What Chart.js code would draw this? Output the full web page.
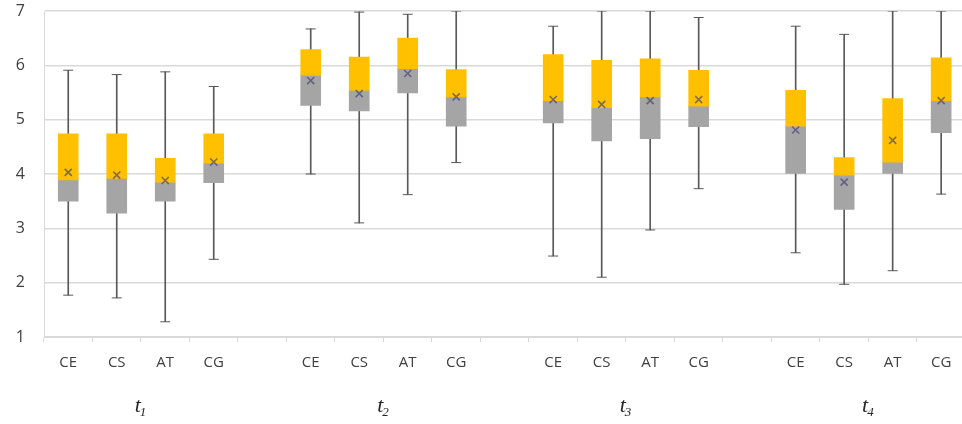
<!DOCTYPE html>
<html>
<head>
<meta charset="utf-8">
<script src="https://cdn.jsdelivr.net/npm/chart.js@4/dist/chart.umd.min.js"></script>
<style>
    body { margin: 0; background: #ffffff; overflow: hidden; }
    #wrap { width: 962px; height: 424px; overflow: hidden; }
</style>
</head>
<body>
<div id="wrap"><canvas id="chart" width="972" height="424"></canvas></div>
<script>
// --- DADOS ---
const groups = ['1', '2', '3', '4'];
const categories = ['CE', 'CS', 'AT', 'CG'];

// t1 CE..CG, t2 CE..CG, t3 CE..CG, t4 CE..CG
const whiskerMin = [1.77, 1.72, 1.28, 2.43,  4.00, 3.10, 3.62, 4.21,  2.49, 2.10, 2.97, 3.73,  2.55, 1.97, 2.22, 3.63];
const quartile1  = [3.50, 3.28, 3.50, 3.84,  5.26, 5.16, 5.49, 4.88,  4.94, 4.61, 4.65, 4.87,  4.01, 3.35, 4.01, 4.76];
const medians    = [3.89, 3.92, 3.85, 4.20,  5.82, 5.54, 5.94, 5.42,  5.35, 5.22, 5.42, 5.25,  4.88, 3.98, 4.22, 5.35];
const quartile3  = [4.74, 4.74, 4.29, 4.74,  6.29, 6.15, 6.50, 5.92,  6.20, 6.09, 6.12, 5.91,  5.54, 4.30, 5.39, 6.14];
const whiskerMax = [5.91, 5.83, 5.88, 5.61,  6.67, 6.98, 6.94, 7.00,  6.72, 7.00, 7.00, 6.88,  6.72, 6.57, 7.00, 7.00];
const means      = [4.03, 3.98, 3.88, 4.22,  5.72, 5.48, 5.85, 5.42,  5.37, 5.28, 5.35, 5.37,  4.81, 3.85, 4.62, 5.35];

const yTicks = [1, 2, 3, 4, 5, 6, 7];

// --- MONTAGEM DAS POSIÇÕES (com uma coluna vazia entre os grupos) ---
const labels = [];
groups.forEach((g, gi) => {
    if (gi > 0) labels.push('');
    categories.forEach(c => labels.push(c));
});

const spread = (values) => {
    const out = [];
    groups.forEach((g, gi) => {
        if (gi > 0) out.push(null);
        categories.forEach((c, ci) => out.push(values[gi * categories.length + ci]));
    });
    return out;
};
const pairs = (lo, hi) => spread(lo.map((v, i) => [v, hi[i]]));

// --- RÓTULOS DOS GRUPOS (t com índice) ---
const groupLabelPlugin = {
    id: 'groupLabels',
    afterDraw(chart) {
        const { ctx, scales: { x } } = chart;
        const big = 'italic 22px "Liberation Serif", "DejaVu Serif", serif';
        const small = 'italic 13px "Liberation Serif", "DejaVu Serif", serif';
        ctx.save();
        ctx.fillStyle = '#262626';
        ctx.textBaseline = 'alphabetic';
        groups.forEach((g, gi) => {
            const start = gi * (categories.length + 1);
            const cx = (x.getPixelForValue(start + 1) + x.getPixelForValue(start + 2)) / 2;
            ctx.font = big;
            const tw = ctx.measureText('t').width;
            ctx.font = small;
            const sw = ctx.measureText(g).width;
            const left = cx - (tw + sw) / 2;
            ctx.font = big;
            ctx.fillText('t', left, 412);
            ctx.font = small;
            ctx.fillText(g, left + tw - 1, 416);
        });
        ctx.restore();
    }
};

new Chart(document.getElementById('chart').getContext('2d'), {
    data: {
        labels,
        datasets: [
            { type: 'line', data: spread(means), showLine: false, pointStyle: 'crossRot', pointRadius: 5,
              borderColor: 'rgba(60,60,115,0.65)', pointBorderWidth: 1.6, order: 1 },
            { type: 'line', data: spread(whiskerMax), showLine: false, pointStyle: 'line', pointRadius: 5,
              borderColor: '#595959', pointBorderWidth: 1, order: 1 },
            { type: 'line', data: spread(whiskerMin), showLine: false, pointStyle: 'line', pointRadius: 5,
              borderColor: '#595959', pointBorderWidth: 1, order: 1 },
            { type: 'bar', data: pairs(medians, quartile3), backgroundColor: '#FFC000', barThickness: 20, grouped: false, order: 2 },
            { type: 'bar', data: pairs(quartile1, medians), backgroundColor: '#A5A5A5', barThickness: 20, grouped: false, order: 2 },
            { type: 'bar', data: pairs(whiskerMin, whiskerMax), backgroundColor: '#595959', barThickness: 1, grouped: false, order: 5 },
        ]
    },
    options: {
        responsive: false,
        animation: false,
        layout: { padding: { top: 11, right: 0 } },
        plugins: { legend: { display: false }, tooltip: { enabled: false } },
        scales: {
            x: {
                type: 'category',
                offset: true,
                grid: { offset: true, drawOnChartArea: false, drawTicks: true, tickLength: 5, color: '#d9d9d9' },
                border: { color: '#d9d9d9' },
                ticks: { color: '#404040', font: { family: '"Open Sans", "Noto Sans", sans-serif', size: 15 }, padding: 12, maxRotation: 0, autoSkip: false },
                afterFit: (scale) => { scale.height = 87; scale.paddingLeft = 0; scale.paddingRight = 0; }
            },
            y: {
                min: 1,
                max: 7,
                afterBuildTicks: (scale) => { scale.ticks = yTicks.map(v => ({ value: v })); },
                grid: { color: '#d9d9d9', lineWidth: 1.5, drawTicks: false },
                border: { display: true, color: '#d9d9d9' },
                ticks: { color: '#404040', font: { family: '"Open Sans", "Noto Sans", sans-serif', size: 16 }, padding: 19 },
                afterFit: (scale) => { scale.width = 44; scale.paddingTop = 0; scale.paddingBottom = 0; }
            }
        }
    },
    plugins: [groupLabelPlugin]
});
</script>
</body>
</html>
